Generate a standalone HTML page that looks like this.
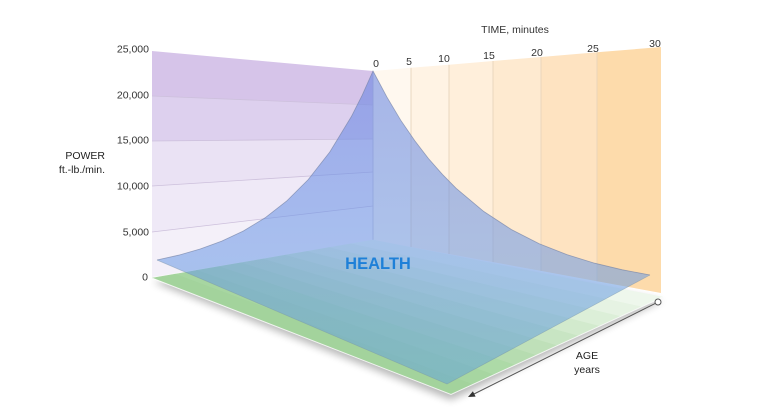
<!DOCTYPE html>
<html>
<head>
<meta charset="utf-8">
<style>
  html,body{margin:0;padding:0;background:#fff;}
  svg{display:block;}
  text{font-family:"Liberation Sans", Arial, sans-serif;}
</style>
</head>
<body>
<svg width="768" height="412" viewBox="0 0 768 412" xmlns="http://www.w3.org/2000/svg">
  <defs>
    <filter id="sh" x="-20%" y="-20%" width="140%" height="160%">
      <feGaussianBlur stdDeviation="4"/>
    </filter>
    <linearGradient id="blueG" gradientUnits="userSpaceOnUse" x1="0" y1="71" x2="0" y2="384">
      <stop offset="0" stop-color="rgb(95,125,225)"/>
      <stop offset="0.55" stop-color="rgb(105,150,230)"/>
      <stop offset="1" stop-color="rgb(100,165,215)"/>
    </linearGradient>
  </defs>

  <!-- floor shadow -->
  <polygon points="153,282 373,244 662,301 451,400" fill="#000" opacity="0.28" filter="url(#sh)"/>

  <!-- purple wall bands -->
  <polygon points="152,51 373,71 373,105 152,96" fill="#d6c4e9"/>
  <polygon points="152,96 373,105 373,139 152,141" fill="#ddd0ee"/>
  <polygon points="152,141 373,139 373,172 152,186" fill="#eae2f4"/>
  <polygon points="152,186 373,172 373,206 152,232" fill="#efe9f7"/>
  <polygon points="152,232 373,206 373,240 152,277" fill="#f4f0f9"/>
  <g stroke="#cdc0dc" stroke-width="0.8" fill="none">
    <line x1="152" y1="96" x2="373" y2="105"/>
    <line x1="152" y1="141" x2="373" y2="139"/>
    <line x1="152" y1="186" x2="373" y2="172"/>
    <line x1="152" y1="232" x2="373" y2="206"/>
  </g>

  <!-- orange wall bands -->
  <polygon points="373,71 411,67.8 411,247 373,240" fill="#fff8ef"/>
  <polygon points="411,67.8 449,64.7 449,254 411,247" fill="#fff3e4"/>
  <polygon points="449,64.7 493,61 493,262.1 449,254" fill="#ffefdb"/>
  <polygon points="493,61 541,57 541,270.9 493,262.1" fill="#feead0"/>
  <polygon points="541,57 597,52.3 597,281.2 541,270.9" fill="#fee3c1"/>
  <polygon points="597,52.3 661,47 661,293 597,281.2" fill="#fddbab"/>
  <g stroke="#e8d4bc" stroke-width="0.9" fill="none">
    <line x1="411" y1="67.8" x2="411" y2="247"/>
    <line x1="449" y1="64.7" x2="449" y2="254"/>
    <line x1="493" y1="61" x2="493" y2="262.1"/>
    <line x1="541" y1="57" x2="541" y2="270.9"/>
    <line x1="597" y1="52.3" x2="597" y2="281.2"/>
  </g>
  <line x1="373" y1="71" x2="373" y2="240" stroke="#c9c2d4" stroke-width="0.9"/>

  <!-- floor bands (stripes parallel to time axis) -->
  <g stroke-width="0.6">
    <polygon points="373,240 662,297 640.9,306.7 351,243.8" fill="#eef7ec" stroke="#eef7ec"/>
    <polygon points="351,243.8 640.9,306.7 619.8,316.4 329,247.6" fill="#e6f3e3" stroke="#e6f3e3"/>
    <polygon points="329,247.6 619.8,316.4 598.7,326.1 307,251.4" fill="#dcefd8" stroke="#dcefd8"/>
    <polygon points="307,251.4 598.7,326.1 577.6,335.8 285,255.2" fill="#d2eacd" stroke="#d2eacd"/>
    <polygon points="285,255.2 577.6,335.8 556.5,345.5 263,259" fill="#c8e5c3" stroke="#c8e5c3"/>
    <polygon points="263,259 556.5,345.5 535.4,355.2 241,262.8" fill="#bfe0b9" stroke="#bfe0b9"/>
    <polygon points="241,262.8 535.4,355.2 514.3,364.9 219,266.6" fill="#b6dcb0" stroke="#b6dcb0"/>
    <polygon points="219,266.6 514.3,364.9 493.2,374.6 197,270.4" fill="#addaa7" stroke="#addaa7"/>
    <polygon points="197,270.4 493.2,374.6 472.1,384.3 175,274.2" fill="#a7d6a1" stroke="#a7d6a1"/>
    <polygon points="175,274.2 472.1,384.3 451,394 153,278" fill="#a3d39c" stroke="#a3d39c"/>
  </g>
  <polyline points="153,278.5 451,394.5 662,297.5" fill="none" stroke="#ffffff" stroke-width="1" opacity="0.8"/>

  <!-- blue surface -->
  <path d="M157,260 L178.6,255.2 L200.2,249 L221.8,241.1 L243.4,231 L265,217.9 L286.6,201.1 L308.2,179.6 L329.8,152 L351.4,116.5 L362.2,95.2 L373,71 L386.9,97.1 L400.7,120.2 L414.6,140.5 L428.4,158.5 L442.3,174.3 L456.1,188.3 L483.8,211.5 L511.5,229.6 L539.2,243.7 L566.9,254.6 L594.6,263.2 L622.3,269.8 L650,275 L447,384 Z"
        fill="url(#blueG)" fill-opacity="0.55"/>
  <path d="M157,260 L178.6,255.2 L200.2,249 L221.8,241.1 L243.4,231 L265,217.9 L286.6,201.1 L308.2,179.6 L329.8,152 L351.4,116.5 L362.2,95.2 L373,71 L386.9,97.1 L400.7,120.2 L414.6,140.5 L428.4,158.5 L442.3,174.3 L456.1,188.3 L483.8,211.5 L511.5,229.6 L539.2,243.7 L566.9,254.6 L594.6,263.2 L622.3,269.8 L650,275"
        fill="none" stroke="#7684a8" stroke-width="0.8" opacity="0.7"/>
  <path d="M650,275 L447,384 L157,260" fill="none" stroke="#7a93a8" stroke-width="0.7" opacity="0.5"/>

  <!-- HEALTH -->
  <text x="378" y="269" font-size="16.5" font-weight="bold" fill="#1e80d8" text-anchor="middle">HEALTH</text>

  <!-- Y axis labels -->
  <g font-size="10.5" fill="#333" text-anchor="end">
    <text x="149" y="52.5">25,000</text>
    <text x="149" y="98.5">20,000</text>
    <text x="149" y="143.5">15,000</text>
    <text x="149" y="189.5">10,000</text>
    <text x="149" y="235.5">5,000</text>
    <text x="148" y="280.5">0</text>
  </g>
  <g font-size="10.5" fill="#222" text-anchor="end">
    <text x="105" y="159">POWER</text>
    <text x="105" y="173">ft.-lb./min.</text>
  </g>

  <!-- time labels -->
  <g font-size="10.5" fill="#333" text-anchor="middle">
    <text x="515" y="33">TIME, minutes</text>
    <text x="376" y="67">0</text>
    <text x="409" y="65">5</text>
    <text x="444" y="62">10</text>
    <text x="489" y="59">15</text>
    <text x="537" y="56">20</text>
    <text x="593" y="52">25</text>
    <text x="655" y="47">30</text>
  </g>

  <!-- age axis -->
  <line x1="655.5" y1="303.3" x2="474" y2="394" stroke="#555" stroke-width="1"/>
  <polygon points="468,397 475.6,396.6 472.9,391.2" fill="#333"/>
  <circle cx="658" cy="302" r="3" fill="#fff" stroke="#555" stroke-width="1"/>
  <g font-size="10.5" fill="#222" text-anchor="middle">
    <text x="587" y="359">AGE</text>
    <text x="587" y="373">years</text>
  </g>
</svg>
</body>
</html>
